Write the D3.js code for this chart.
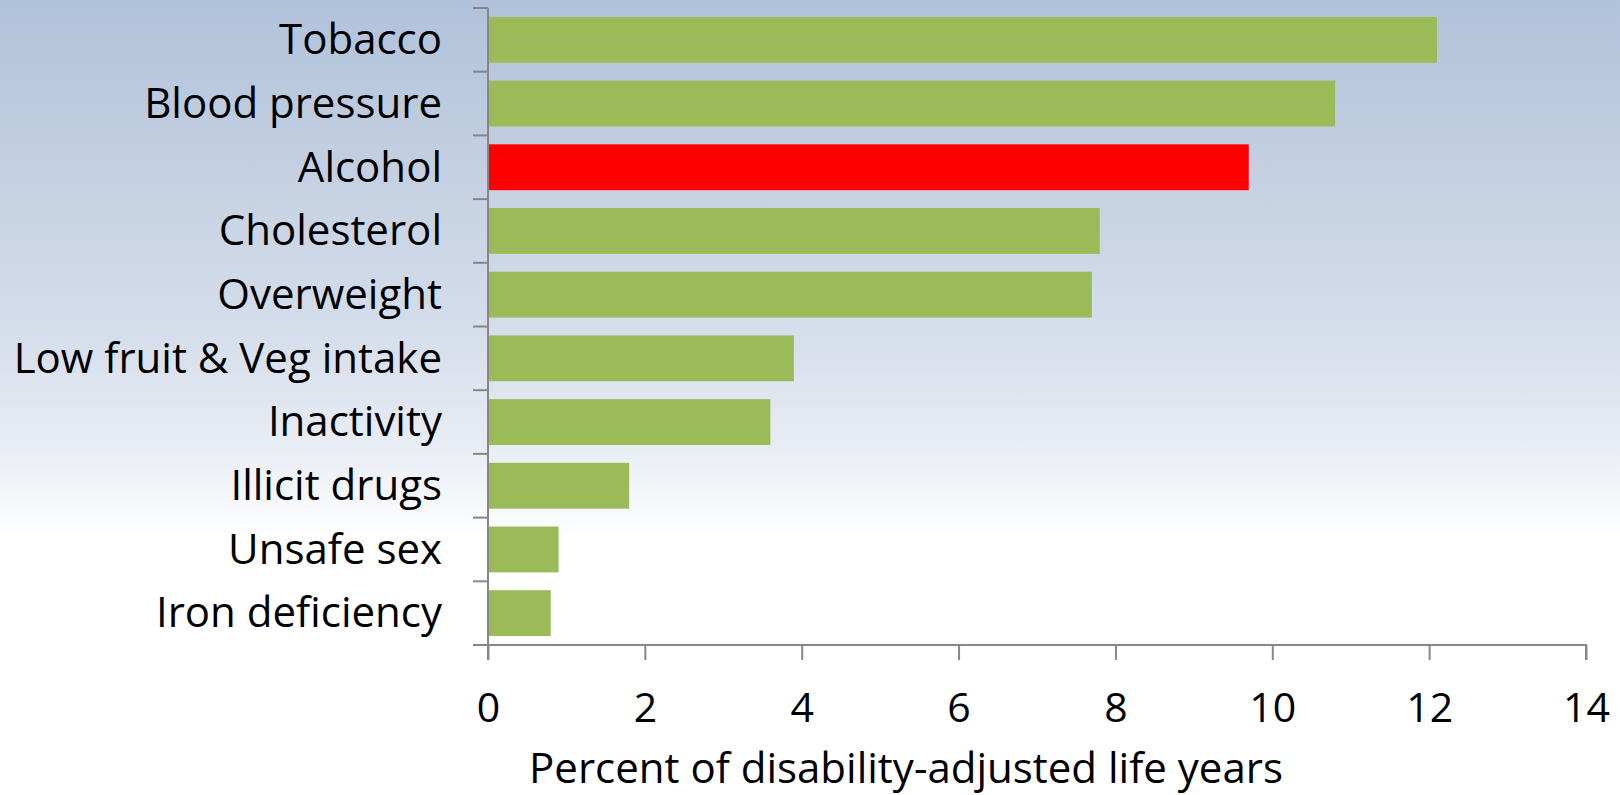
<!DOCTYPE html>
<html>
<head>
<meta charset="utf-8">
<script src="https://cdn.jsdelivr.net/npm/d3@7"></script>
<style>
  html, body { margin: 0; padding: 0; background: #fff; }
  svg { display: block; font-family: "Open Sans", Lato, sans-serif; }
</style>
</head>
<body>
<div id="chart"></div>
<script>
(function(d3) {
    var W = 1620, H = 795;

    // data
    var categories = ['Tobacco', 'Blood pressure', 'Alcohol', 'Cholesterol', 'Overweight',
        'Low fruit & Veg intake', 'Inactivity', 'Illicit drugs', 'Unsafe sex', 'Iron deficiency'];
    var values = [12.1, 10.8, 9.7, 7.8, 7.7, 3.9, 3.6, 1.8, 0.9, 0.8];
    var highlight = 'Alcohol';
    var xTicks = [0, 2, 4, 6, 8, 10, 12, 14];
    var xTitle = 'Percent of disability-adjusted life years';

    var left = 488, right = 1586, top = 8, bottom = 645;

    var svg = d3.select('#chart')
        .append('svg')
        .attr('width', W)
        .attr('height', H);

    var grad = svg.append('defs').append('linearGradient')
        .attr('id', 'bg')
        .attr('x1', 0).attr('y1', 0).attr('x2', 0).attr('y2', 1);
    grad.append('stop').attr('offset', '0%').attr('stop-color', '#b0c2db');
    grad.append('stop').attr('offset', '20%').attr('stop-color', '#c3cfe1');
    grad.append('stop').attr('offset', '40%').attr('stop-color', '#d3dcea');
    grad.append('stop').attr('offset', '56%').attr('stop-color', '#e8ecf4');
    grad.append('stop').attr('offset', '68%').attr('stop-color', '#ffffff');
    grad.append('stop').attr('offset', '100%').attr('stop-color', '#ffffff');

    svg.append('rect')
        .attr('width', W).attr('height', H)
        .attr('fill', 'url(#bg)');

    var x = d3.scaleLinear().domain([0, 14]).range([left, right]);
    var y = d3.scaleBand().domain(categories).range([top, bottom])
        .paddingInner(0.28).paddingOuter(0.14);

    svg.selectAll('rect.bar')
        .data(values)
        .enter()
        .append('rect')
        .attr('class', 'bar')
        .attr('x', x(0))
        .attr('y', function(d, i) { return y(categories[i]); })
        .attr('width', function(d) { return x(d) - x(0); })
        .attr('height', y.bandwidth())
        .attr('fill', function(d, i) { return categories[i] === highlight ? '#ff0000' : '#9bbb59'; });

    var axisColor = '#878787';

    // category axis: band boundaries as ticks
    var yAxis = svg.append('g');
    yAxis.append('line')
        .attr('x1', left).attr('x2', left)
        .attr('y1', top).attr('y2', bottom + 15)
        .attr('stroke', axisColor).attr('stroke-width', 2);
    yAxis.selectAll('line.tick')
        .data(d3.range(categories.length + 1))
        .enter()
        .append('line')
        .attr('class', 'tick')
        .attr('x1', left - 15).attr('x2', left)
        .attr('y1', function(i) { return top + i * y.step(); })
        .attr('y2', function(i) { return top + i * y.step(); })
        .attr('stroke', axisColor).attr('stroke-width', 2);
    yAxis.selectAll('text')
        .data(categories)
        .enter()
        .append('text')
        .attr('x', 442)
        .attr('y', function(d) { return y(d) + y.bandwidth() / 2; })
        .attr('dy', '0.34em')
        .attr('text-anchor', 'end')
        .attr('font-size', 42)
        .attr('fill', '#000')
        .text(function(d) { return d; });

    // value axis
    var xAxis = svg.append('g')
        .attr('transform', 'translate(0,' + bottom + ')')
        .call(d3.axisBottom(x).tickValues(xTicks).tickSize(15).tickPadding(33)
            .tickFormat(d3.format('d')));
    xAxis.select('.domain')
        .attr('d', 'M' + (left - 15) + ',0H' + right + 'V15')
        .attr('stroke', axisColor).attr('stroke-width', 2);
    xAxis.selectAll('.tick line').attr('stroke', axisColor).attr('stroke-width', 2);
    xAxis.selectAll('.tick text')
        .attr('font-size', 41)
        .attr('font-family', '"Open Sans", Lato, sans-serif')
        .attr('fill', '#000');

    svg.append('text')
        .attr('x', 906)
        .attr('y', 783)
        .attr('text-anchor', 'middle')
        .attr('font-size', 42)
        .attr('fill', '#000')
        .text(xTitle);
}(window.d3));
</script>
</body>
</html>
